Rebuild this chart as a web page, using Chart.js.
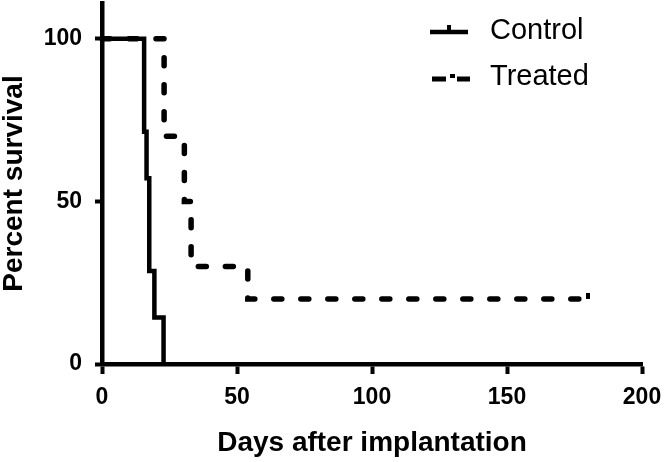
<!DOCTYPE html>
<html>
<head>
<meta charset="utf-8">
<script src="https://cdn.jsdelivr.net/npm/chart.js@4.4.1/dist/chart.umd.min.js"></script>
<style>
  html, body { margin: 0; padding: 0; background: #ffffff; }
  #wrap { width: 666px; height: 462px; position: relative; }
</style>
</head>
<body>
<div id="wrap"><canvas id="c" width="666" height="462"></canvas></div>
<script>
// ---- data ----
const seriesNames = ["Control", "Treated"];
const controlDays = [0, 15.6, 16.5, 17.5, 19.4, 22.8];
const controlSurvival = [100, 71.4, 57.1, 28.6, 14.3, 0];
const treatedDays = [0, 23, 30.5, 33, 54, 180];
const treatedSurvival = [100, 70, 50, 30, 20, 20];
const xTicks = [0, 50, 100, 150, 200];
const yTicks = [0, 50, 100];
const xTitle = "Days after implantation";
const yTitle = "Percent survival";

const toPoints = (xs, ys) => xs.map((x, i) => ({ x: x, y: ys[i] }));

const FONT = "'Liberation Sans', Arial, Helvetica, sans-serif";

// censor mark only on the last point of the treated curve
const treatedRadius = treatedDays.map((d, i) => i === treatedDays.length - 1 ? 6 : 0);

const zeroPad = (s) => { s.paddingTop = 0; s.paddingBottom = 0; s.paddingLeft = 0; s.paddingRight = 0; };

const legendPlugin = {
  id: 'kmLegend',
  afterDatasetsDraw(chart) {
    const ctx = chart.ctx;
    const rows = [
      { ds: chart.data.datasets[0], y: 32, textY: 31 },
      { ds: chart.data.datasets[1], y: 79, textY: 77 }
    ];
    ctx.save();
    rows.forEach((r, idx) => {
      ctx.strokeStyle = r.ds.borderColor;
      ctx.fillStyle = r.ds.borderColor;
      if (idx === 0) {
        ctx.lineWidth = 4.5;
        ctx.lineCap = 'butt';
        ctx.beginPath();
        ctx.moveTo(430, r.y);
        ctx.lineTo(468, r.y);
        ctx.stroke();
        ctx.fillRect(447, r.y - 7, 4, 6);
      } else {
        ctx.lineWidth = 5;
        ctx.lineCap = 'butt';
        ctx.beginPath();
        ctx.moveTo(432, r.y); ctx.lineTo(446, r.y);
        ctx.moveTo(457, r.y); ctx.lineTo(470, r.y);
        ctx.stroke();
        ctx.fillRect(450, r.y - 5, 5, 4);
      }
      ctx.font = "29px " + FONT;
      ctx.textBaseline = 'middle';
      ctx.textAlign = 'left';
      ctx.fillStyle = '#000';
      ctx.fillText(r.ds.label, 490, r.textY);
    });
    ctx.restore();
  }
};

new Chart(document.getElementById('c'), {
  type: 'line',
  data: {
    datasets: [
      {
        label: seriesNames[0],
        data: toPoints(controlDays, controlSurvival),
        stepped: true,
        borderColor: '#000000',
        borderWidth: 4.5,
        pointRadius: 0,
        fill: false,
        clip: false,
        borderJoinStyle: 'miter'
      },
      {
        label: seriesNames[1],
        data: toPoints(treatedDays, treatedSurvival),
        stepped: true,
        borderColor: '#000000',
        borderWidth: 5.5,
        borderDash: [8, 19],
        borderCapStyle: 'round',
        pointRadius: treatedRadius,
        pointStyle: 'dash',
        rotation: 270,
        pointBorderWidth: 4,
        pointBorderColor: '#000000',
        pointBackgroundColor: '#000000',
        fill: false,
        clip: false
      }
    ]
  },
  options: {
    responsive: false,
    animation: false,
    events: [],
    layout: { autoPadding: false, padding: { left: 0, right: 24, top: 3, bottom: 0 } },
    plugins: {
      legend: { display: false },
      tooltip: { enabled: false }
    },
    scales: {
      x: {
        type: 'linear',
        min: 0,
        max: 200,
        afterBuildTicks: (s) => { s.ticks = xTicks.map(v => ({ value: v })); },
        afterFit: (s) => { s.height = 98; zeroPad(s); },
        border: { display: true, color: '#000', width: 4.5 },
        grid: { drawOnChartArea: false, drawTicks: true, tickLength: 10, tickWidth: 4, tickColor: '#000' },
        ticks: { color: '#000', font: { family: FONT, size: 23, weight: 'bold' }, padding: 10, maxRotation: 0 },
        title: { display: true, text: xTitle, color: '#000', font: { family: FONT, size: 28, weight: 'bold' }, padding: { top: 0, bottom: 2 } }
      },
      y: {
        type: 'linear',
        min: 0,
        max: 111,
        afterBuildTicks: (s) => { s.ticks = yTicks.map(v => ({ value: v })); },
        afterFit: (s) => { s.width = 102; zeroPad(s); },
        border: { display: true, color: '#000', width: 4.5 },
        grid: { drawOnChartArea: false, drawTicks: true, tickLength: 7, tickWidth: 4, tickColor: '#000' },
        ticks: { color: '#000', font: { family: FONT, size: 23, weight: 'bold' }, padding: 13 },
        title: { display: true, text: yTitle, color: '#000', font: { family: FONT, size: 28, weight: 'bold', lineHeight: 1 }, padding: { top: 0, bottom: 0 } }
      }
    }
  },
  plugins: [legendPlugin]
});
</script>
</body>
</html>
